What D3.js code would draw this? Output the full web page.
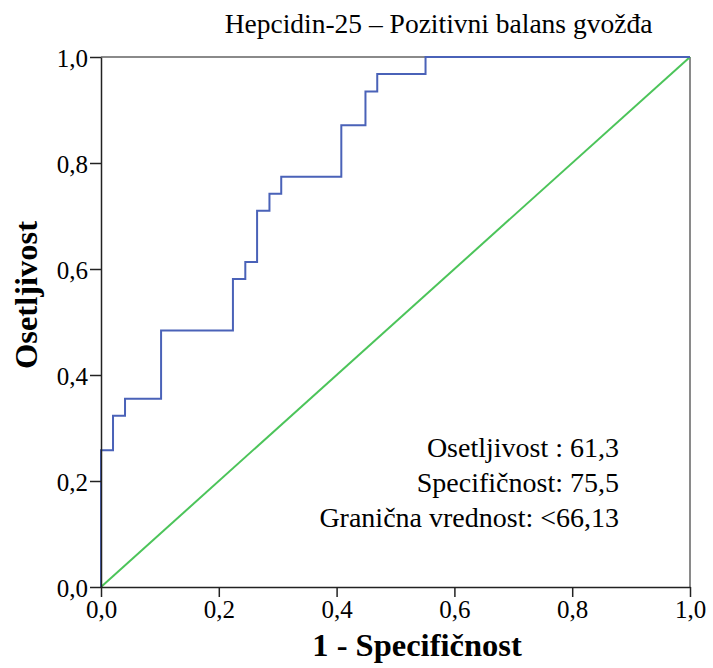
<!DOCTYPE html>
<html><head><meta charset="utf-8">
<script src="https://cdn.jsdelivr.net/npm/d3@7"></script>
<style>body{margin:0;background:#fff}</style>
</head><body><svg id="c" width="713" height="668"></svg>
<script>
const fpr = [0, 0, 0.0204, 0.0408, 0.102, 0.224, 0.245, 0.265, 0.286, 0.306, 0.408, 0.449, 0.469, 0.551, 1.0];
const tpr = [0, 0.258, 0.323, 0.355, 0.484, 0.581, 0.613, 0.710, 0.742, 0.774, 0.871, 0.935, 0.968, 1.0, 1.0];
const ticks = [0, 0.2, 0.4, 0.6, 0.8, 1.0];
const tickLabels = ["0,0", "0,2", "0,4", "0,6", "0,8", "1,0"];
const title = "Hepcidin-25 – Pozitivni balans gvožđa";
const xTitle = "1 - Specifičnost";
const yTitle = "Osetljivost";
const notes = ["Osetljivost : 61,3", "Specifičnost: 75,5", "Granična vrednost: <66,13"];

const FF = '"Liberation Serif","Times New Roman",Times,serif';
const svg = d3.select("#c");
const L = 101, R = 690, T = 57, B = 587;
const x = d3.scaleLinear().domain([0, 1]).range([L, R]);
const y = d3.scaleLinear().domain([0, 1]).range([B, T]);

// frame top/right
svg.append("line").attr("x1", L).attr("x2", R).attr("y1", T).attr("y2", T).attr("stroke", "#8a8a8a").attr("stroke-width", 2);
svg.append("line").attr("x1", R).attr("x2", R).attr("y1", T).attr("y2", B).attr("stroke", "#8a8a8a").attr("stroke-width", 2);

// reference diagonal
svg.append("line").attr("x1", x(0)).attr("y1", y(0)).attr("x2", x(1)).attr("y2", y(1))
  .attr("stroke", "#4cc45a").attr("stroke-width", 2);

// ROC curve
const pts = fpr.map((v, i) => [v, tpr[i]]);
svg.append("path").datum(pts)
  .attr("d", d3.line().x(d => x(d[0])).y(d => y(d[1])).curve(d3.curveStepAfter))
  .attr("fill", "none").attr("stroke", "#4a62b8").attr("stroke-width", 2);

// axes
const fmt = d => tickLabels[ticks.indexOf(d)];
const xa = svg.append("g").attr("transform", `translate(0,${B})`)
  .call(d3.axisBottom(x).tickValues(ticks).tickFormat(fmt).tickSize(10).tickSizeOuter(0).tickPadding(2));
const ya = svg.append("g").attr("transform", `translate(${L},0)`)
  .call(d3.axisLeft(y).tickValues(ticks).tickFormat(fmt).tickSize(11).tickSizeOuter(0).tickPadding(2));
[xa, ya].forEach(g => {
  g.attr("font-family", FF).attr("font-size", 25);
  g.selectAll("path").attr("stroke", "#222").attr("stroke-width", 1.5);
  g.selectAll("line").attr("stroke", "#222").attr("stroke-width", 1.5);
  g.selectAll("text").attr("fill", "#000");
});
ya.selectAll("text").attr("dy", "0.36em");
xa.selectAll("text").attr("dy", 0).attr("y", 31);

// titles
svg.append("text").attr("x", 438.5).attr("y", 33).attr("text-anchor", "middle")
  .attr("font-family", FF).attr("font-size", 27.5).text(title);
svg.append("text").attr("x", 417).attr("y", 656).attr("text-anchor", "middle")
  .attr("font-family", FF).attr("font-size", 32.5).attr("font-weight", "bold").text(xTitle);
svg.append("text").attr("transform", "translate(37,295) rotate(-90)").attr("text-anchor", "middle")
  .attr("font-family", FF).attr("font-size", 32.5).attr("font-weight", "bold").text(yTitle);

// notes
svg.selectAll(".note").data(notes).enter().append("text")
  .attr("x", 619).attr("y", (d, i) => 457 + i * 35)
  .attr("text-anchor", "end").attr("font-family", FF).attr("font-size", 28).text(d => d);
</script></body></html>
